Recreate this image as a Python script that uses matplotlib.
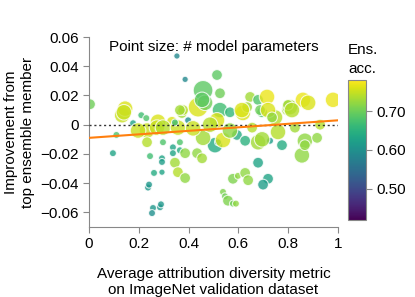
import numpy as np
import matplotlib
matplotlib.use("Agg")
import matplotlib.pyplot as plt
from matplotlib.ticker import FuncFormatter

plt.rcParams['font.family'] = ['Liberation Sans', 'DejaVu Sans']

# attribution diversity, improvement, ensemble accuracy, model params (millions)
diversity = [0.004, 0.133, 0.145, 0.14, 0.21, 0.23, 0.177, 0.11, 0.233, 0.277,
             0.273, 0.333, 0.297, 0.233, 0.297, 0.357, 0.373, 0.378, 0.398, 0.438,
             0.458, 0.466, 0.506, 0.353, 0.386, 0.514, 0.526, 0.526, 0.566, 0.618,
             0.647, 0.679, 0.715, 0.695, 0.635, 0.514, 0.655, 0.747, 0.795, 0.807,
             0.859, 0.880, 0.98, 0.759, 0.679, 0.727, 0.775, 0.867, 0.916, 0.594,
             0.518, 0.695, 0.719, 0.699, 0.679, 0.855, 0.867, 0.578, 0.598, 0.627,
             0.639, 0.538, 0.546, 0.558, 0.578, 0.590, 0.337, 0.337, 0.365, 0.386,
             0.345, 0.357, 0.386, 0.434, 0.454, 0.458, 0.538, 0.096, 0.245, 0.293,
             0.293, 0.261, 0.293, 0.237, 0.241, 0.257, 0.253, 0.285, 0.289, 0.687,
             0.719, 0.799, 0.735, 0.815, 0.614, 0.365, 0.345, 0.454, 0.197, 0.418,
             0.486, 0.566, 0.627, 0.365, 0.827, 0.928]
improvement = [0.014, 0.0065, 0.011, 0.0085, 0.0065, 0.0045, 0.001, -0.007, -0.004, 0.002,
               -0.002, 0.002, -0.002, -0.012, -0.012, -0.002, 0.008, 0.010, 0.003, 0.012,
               0.0235, 0.015, -0.014, 0.047, 0.031, 0.034, 0.0215, 0.010, 0.0085, 0.008,
               0.019, 0.017, 0.019, 0.0085, 0.012, 0.003, -0.002, 0.005, 0.010, 0.012,
               0.017, 0.015, 0.017, -0.005, -0.012, -0.011, -0.014, -0.011, -0.009, -0.007,
               -0.012, -0.010, -0.037, -0.041, -0.026, -0.021, -0.014, -0.037, -0.035, -0.033,
               -0.038, -0.046, -0.049, -0.052, -0.054, -0.054, -0.0155, -0.0195, -0.0175, -0.0195,
               -0.026, -0.0325, -0.0365, -0.0195, -0.023, -0.009, -0.0105, -0.0195, -0.0215, -0.023,
               -0.0255, -0.033, -0.0325, -0.043, -0.041, -0.057, -0.0605, -0.0565, -0.0545, 0.010,
               0.010, 0.0135, 0.005, 0.010, 0.010, 0.010, 0.0015, 0.017, -0.004, -0.0025,
               0.0, -0.004, -0.011, -0.012, -0.002, 0.0]
ens_acc = [0.70, 0.75, 0.76, 0.75, 0.67, 0.68, 0.63, 0.68, 0.75, 0.76,
           0.75, 0.76, 0.74, 0.74, 0.68, 0.75, 0.73, 0.74, 0.60, 0.76,
           0.69, 0.70, 0.64, 0.59, 0.59, 0.69, 0.70, 0.67, 0.66, 0.76,
           0.73, 0.68, 0.77, 0.68, 0.73, 0.76, 0.74, 0.74, 0.73, 0.73,
           0.77, 0.76, 0.77, 0.74, 0.73, 0.62, 0.64, 0.72, 0.72, 0.64,
           0.63, 0.73, 0.63, 0.62, 0.63, 0.72, 0.72, 0.71, 0.72, 0.72,
           0.72, 0.71, 0.70, 0.71, 0.70, 0.72, 0.63, 0.63, 0.64, 0.72,
           0.73, 0.74, 0.72, 0.72, 0.73, 0.73, 0.76, 0.63, 0.67, 0.63,
           0.62, 0.64, 0.63, 0.61, 0.61, 0.61, 0.60, 0.61, 0.61, 0.70,
           0.76, 0.73, 0.72, 0.74, 0.76, 0.73, 0.67, 0.69, 0.75, 0.75,
           0.74, 0.72, 0.65, 0.68, 0.73, 0.74]
params_m = [12, 25, 25, 25, 5, 5, 5, 5, 25, 25,
            25, 12, 25, 12, 5, 25, 12, 12, 5, 40,
            40, 25, 25, 4, 4, 12, 12, 25, 12, 25,
            12, 12, 25, 12, 12, 25, 12, 25, 12, 25,
            25, 25, 25, 25, 25, 5, 12, 25, 12, 12,
            5, 25, 12, 12, 12, 25, 12, 12, 5, 12,
            12, 5, 5, 12, 5, 5, 5, 5, 5, 12,
            12, 12, 12, 12, 12, 25, 25, 5, 5, 5,
            5, 5, 4, 5, 5, 5, 5, 5, 5, 12,
            25, 12, 12, 25, 25, 12, 5, 25, 25, 25,
            25, 25, 12, 5, 12, 12]

# linear trend
trend_x = [0, 1]
trend_y = [-0.009, 0.003]

fig = plt.figure(figsize=(4.15, 2.97), dpi=100)
ax = fig.add_axes([0.2145, 0.2357, 0.6, 0.6397])

sc = ax.scatter(diversity, improvement, c=ens_acc, s=np.array(params_m) * 5,
                cmap='viridis', vmin=0.42, vmax=0.78, alpha=0.8,
                edgecolors='white', linewidths=0.8, zorder=2)
ax.axhline(0, color='#333333', linestyle=(0, (1.5, 2)), linewidth=1, zorder=3)
ax.plot(trend_x, trend_y, color='#ff7f0e', linewidth=1.5, zorder=4)

ax.set_xlim(0, 1)
ax.set_ylim(-0.07, 0.06)
ax.set_xticks([0, 0.2, 0.4, 0.6, 0.8, 1])
ax.set_yticks([-0.06, -0.04, -0.02, 0, 0.02, 0.04, 0.06])
fmt = FuncFormatter(lambda v, p: ('%g' % round(v, 3)).replace('-', '\u2212'))
ax.xaxis.set_major_formatter(fmt)
ax.yaxis.set_major_formatter(fmt)
for s in ['top', 'right']:
    ax.spines[s].set_visible(False)
for s in ['left', 'bottom']:
    ax.spines[s].set_color('#888888')
ax.tick_params(colors='#888888', labelcolor='black', labelsize=11, length=4)

ax.text(0.5, 0.95, 'Point size: # model parameters', transform=ax.transAxes,
        ha='center', va='center', fontsize=11)
ax.set_xlabel('Average attribution diversity metric\non ImageNet validation dataset',
              fontsize=11, labelpad=11)
ax.set_ylabel('Improvement from\ntop ensemble member', fontsize=11)

cax = fig.add_axes([0.8386, 0.2593, 0.0434, 0.4713])
cb = fig.colorbar(sc, cax=cax)
cb.solids.set_alpha(1)
cb.set_ticks([0.5, 0.6, 0.7])
cb.set_ticklabels(['0.50', '0.60', '0.70'])
cb.outline.set_edgecolor('#888888')
cax.tick_params(colors='#888888', labelcolor='black', labelsize=11, length=4)
fig.text(0.8386, 0.80, 'Ens.\nacc.', ha='left', va='center', fontsize=11,
         linespacing=1.45)

fig.savefig('out.png', dpi=100)
